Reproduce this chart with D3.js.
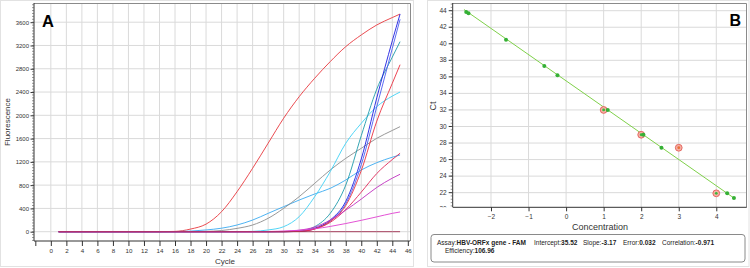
<!DOCTYPE html>
<html><head><meta charset="utf-8">
<script src="https://cdn.jsdelivr.net/npm/d3@7"></script>
<style>body{margin:0;background:#fff}svg{display:block}text{font-family:"Liberation Sans",Arial,sans-serif}</style>
</head><body><svg id="c" width="750" height="268"></svg>
<script>
// ---------- Panel A data ----------
const cycles = [1, 14, 16, 18, 20, 22, 24, 26, 28, 30, 32, 34, 36, 38, 40, 42, 44, 45];
const seriesNames = ["early","sky","gray","cyan","teal","blue","blue2","red2","crimson","magenta","pink","flat"];
const seriesColors = ["#e8383d","#3aaaf0","#8c8c8c","#3dd0f5","#1e9aaa","#1c1ce0","#4a5cf0","#ea3040","#e02858","#bf30c0","#e040d0","#a03050"];
const early   = [0,0,5,45,130,344,688,1090,1520,1950,2320,2637,2923,3180,3381,3553,3680,3740];
const sky     = [0,0,2,10,30,60,115,200,315,430,544,648,745,888,1060,1186,1280,1318];
const gray    = [0,0,0,0,5,20,57,115,230,401,602,831,1060,1260,1433,1605,1740,1805];
const cyan    = [0,0,0,0,0,0,0,5,30,86,258,602,1032,1519,1862,2149,2330,2400];
const teal    = [0,0,0,0,0,0,0,0,0,2,10,86,315,800,1650,2450,3000,3266];
const blue    = [0,0,0,0,0,0,0,0,0,0,5,60,200,520,1250,2300,3280,3740];
const blue2   = [0,0,0,0,0,0,0,0,0,0,4,50,180,480,1150,2150,3150,3650];
const red2    = [0,0,0,0,0,0,0,0,0,0,5,50,180,450,1050,1900,2550,2870];
const crimson = [0,0,0,0,0,0,0,0,0,0,5,45,160,380,680,1000,1240,1348];
const magenta = [0,0,0,0,0,0,0,0,0,5,25,80,200,370,560,760,920,987];
const pink    = [0,0,0,0,0,0,0,0,3,10,25,50,90,140,195,255,315,339];
const flat    = [0,0,0,0,0,0,0,0,0,0,0,0,0,0,0,0,0,0];
const seriesValues = [early,sky,gray,cyan,teal,blue,blue2,red2,crimson,magenta,pink,flat];
const xTicksA = d3.range(-2, 47, 2);
const yTicksA = [0,400,800,1200,1600,2000,2400,2800,3200,3600];

// ---------- Panel B data ----------
const stdConc = [-2.66,-2.60,-1.60,-0.58,-0.23,1.11,2.06,2.54,4.29,4.47];
const stdCt   = [43.84,43.68,40.49,37.31,36.19,32.0,29.0,27.43,21.92,21.35];
const unkConc = [1.0,2.0,3.0,4.0];
const unkCt   = [32.0,29.0,27.43,21.92];
const unkCore = ["#3cb83c","#3cb83c","#e8703a","#3cb83c"];
const intercept = 35.52, slope = -3.17;
const lineRange = [-2.72, 4.5];
const xTicksB = [-2,-1,0,1,2,3,4];
const yTicksB = [20,22,24,26,28,30,32,34,36,38,40,42,44];

const svg = d3.select("#c");
const defs = svg.append("defs");
defs.append("clipPath").attr("id","clipB").append("rect").attr("x",420).attr("y",0).attr("width",40).attr("height",207.3);
const gridCol = "#dadada";
// panel borders
svg.append("rect").attr("x",0.5).attr("y",0.5).attr("width",413).attr("height",266).attr("fill","none").attr("stroke","#e2e2e2");
svg.append("rect").attr("x",427.5).attr("y",0.5).attr("width",321.5).attr("height",266).attr("fill","none").attr("stroke","#e2e2e2");

// ===== Panel A =====
const xA = d3.scaleLinear().domain([-2.17, 46.28]).range([34, 410]);
const yA = d3.scaleLinear().domain([-160, 3930]).range([241, 3]);
const gA = svg.append("g");
gA.selectAll(".vg").data(d3.range(0,47,2)).join("line")
  .attr("x1",d=>xA(d)).attr("x2",d=>xA(d)).attr("y1",3).attr("y2",241).attr("stroke",gridCol);
gA.selectAll(".hg").data(yTicksA).join("line")
  .attr("x1",34).attr("x2",410).attr("y1",d=>yA(d)).attr("y2",d=>yA(d)).attr("stroke",gridCol);
gA.append("path").attr("d",`M34,3.5H410.5V241`).attr("fill","none").attr("stroke","#8a8a8a");
const yAxA = d3.axisLeft(yA).tickValues(yTicksA).tickSize(3.5).tickPadding(1.5).tickFormat(d3.format("d"));
const gy = gA.append("g").attr("transform","translate(34,0)").call(yAxA);
gy.select(".domain").attr("d","M0,3V241").attr("stroke","#333");
gy.selectAll("text").attr("font-size",6).attr("fill","#333");
gy.selectAll(".tick line").attr("stroke","#333");
gA.selectAll(".ym").data(d3.range(-150,3930,50)).join("line")
  .attr("x1",32).attr("x2",34).attr("y1",d=>yA(d)).attr("y2",d=>yA(d)).attr("stroke","#555").attr("stroke-width",0.6);
const xAxA = d3.axisBottom(xA).tickValues(xTicksA).tickSize(5).tickPadding(3).tickFormat(d=>d<0?"":d);
const gx = gA.append("g").attr("transform","translate(0,241)").call(xAxA);
gx.select(".domain").attr("d","M34,0H410").attr("stroke","#333");
gx.selectAll("text").attr("font-size",6.2).attr("fill","#333");
gx.selectAll(".tick line").attr("stroke","#333");
gA.append("text").attr("x",225).attr("y",263.5).attr("text-anchor","middle").attr("font-size",8).attr("fill","#333").text("Cycle");
gA.append("text").attr("transform","translate(10,122) rotate(-90)").attr("text-anchor","middle").attr("font-size",8).attr("fill","#333").text("Fluorescence");
gA.append("text").attr("x",42).attr("y",26.7).attr("font-size",16.5).attr("font-weight","bold").attr("fill","#000").text("A");
const lineA = d3.line().x((d,i)=>xA(cycles[i])).y(d=>yA(d)).curve(d3.curveMonotoneX);
seriesValues.forEach((vals,k)=>{
  gA.append("path").attr("d",lineA(vals)).attr("fill","none").attr("stroke",seriesColors[k]).attr("stroke-width",0.9);
});

// ===== Panel B =====
const xB = d3.scaleLinear().domain([-3.02, 4.81]).range([452.7, 746.7]);
const yB = d3.scaleLinear().domain([20.23, 44.93]).range([207.3, 3]);
const gB = svg.append("g");
gB.selectAll(".vg").data(xTicksB).join("line")
  .attr("x1",d=>xB(d)).attr("x2",d=>xB(d)).attr("y1",3).attr("y2",207.3).attr("stroke",gridCol);
gB.selectAll(".hg").data(yTicksB.filter(d=>d>20.5)).join("line")
  .attr("x1",452.7).attr("x2",746.7).attr("y1",d=>yB(d)).attr("y2",d=>yB(d)).attr("stroke",gridCol);
gB.append("path").attr("d",`M452.7,3.5H746.5V207.3`).attr("fill","none").attr("stroke","#8a8a8a");
const yAxB = d3.axisLeft(yB).tickValues(yTicksB).tickSize(4).tickPadding(2).tickFormat(d3.format("d"));
const gyB = gB.append("g").attr("transform","translate(452.7,0)").attr("clip-path","url(#clipB)");
gyB.call(yAxB);
gyB.attr("transform",null);
gyB.selectAll(".tick").attr("transform",d=>`translate(452.7,${yB(d)})`);
gyB.select(".domain").attr("d","M452.7,3V207.3").attr("stroke","#333");
gyB.selectAll("text").attr("font-size",6.5).attr("fill","#333");
gyB.selectAll(".tick line").attr("stroke","#333");
gB.selectAll(".ym").data(d3.range(20.4,44.9,0.4)).join("line")
  .attr("x1",450.7).attr("x2",452.7).attr("y1",d=>yB(d)).attr("y2",d=>yB(d)).attr("stroke","#555").attr("stroke-width",0.6);
const xAxB = d3.axisBottom(xB).tickValues(xTicksB).tickSize(4).tickPadding(3).tickFormat(d3.format("d"));
const gxB = gB.append("g").attr("transform","translate(0,207.3)").call(xAxB);
gxB.select(".domain").attr("d","M452.7,0H746.7").attr("stroke","#333");
gxB.selectAll("text").attr("font-size",6.5).attr("fill","#333");
gxB.selectAll(".tick line").attr("stroke","#333");
gB.append("text").attr("x",600).attr("y",230).attr("text-anchor","middle").attr("font-size",9).attr("fill","#333").text("Concentration");
gB.append("text").attr("transform","translate(436,106) rotate(-90)").attr("text-anchor","middle").attr("font-size",9).attr("fill","#333").text("Ct");
gB.append("text").attr("x",729.5).attr("y",26).attr("font-size",16).attr("font-weight","bold").attr("fill","#000").text("B");
gB.append("line").attr("x1",xB(lineRange[0])).attr("y1",yB(intercept+slope*lineRange[0]))
  .attr("x2",xB(lineRange[1])).attr("y2",yB(intercept+slope*lineRange[1])).attr("stroke","#7fd04a").attr("stroke-width",1);
gB.selectAll(".unk").data(unkConc).join("circle").attr("cx",d=>xB(d)).attr("cy",(d,i)=>yB(unkCt[i])).attr("r",3.4)
  .attr("fill","#f5b0a4").attr("stroke","#e2605a").attr("stroke-width",0.9);
gB.selectAll(".unkc").data(unkConc).join("circle").attr("cx",d=>xB(d)).attr("cy",(d,i)=>yB(unkCt[i])).attr("r",1.4)
  .attr("fill",(d,i)=>unkCore[i]);
gB.selectAll(".std").data(stdConc).join("circle").attr("cx",d=>xB(d)).attr("cy",(d,i)=>yB(stdCt[i])).attr("r",2)
  .attr("fill","#35b035");
// info box
svg.append("rect").attr("x",431).attr("y",234.5).attr("width",314).attr("height",27.5).attr("rx",3).attr("fill","#fff").attr("stroke","#8a8a8a");
const info = svg.append("g").attr("font-size",6.5).attr("fill","#222");
const t1 = info.append("text").attr("x",437).attr("y",245);
t1.append("tspan").text("Assay:");
t1.append("tspan").attr("font-weight","bold").text("HBV-ORFx gene - FAM");
const parts = [["Intercept:","35.52",534],["Slope:","-3.17",583],["Error:","0.032",623],["Correlation:","-0.971",662]];
parts.forEach(p=>{
  const t = info.append("text").attr("x",p[2]).attr("y",245);
  t.append("tspan").text(p[0]);
  t.append("tspan").attr("font-weight","bold").text(p[1]);
});
const t2 = info.append("text").attr("x",445).attr("y",252.5);
t2.append("tspan").text("Efficiency:");
t2.append("tspan").attr("font-weight","bold").text("106.96");
</script></body></html>
